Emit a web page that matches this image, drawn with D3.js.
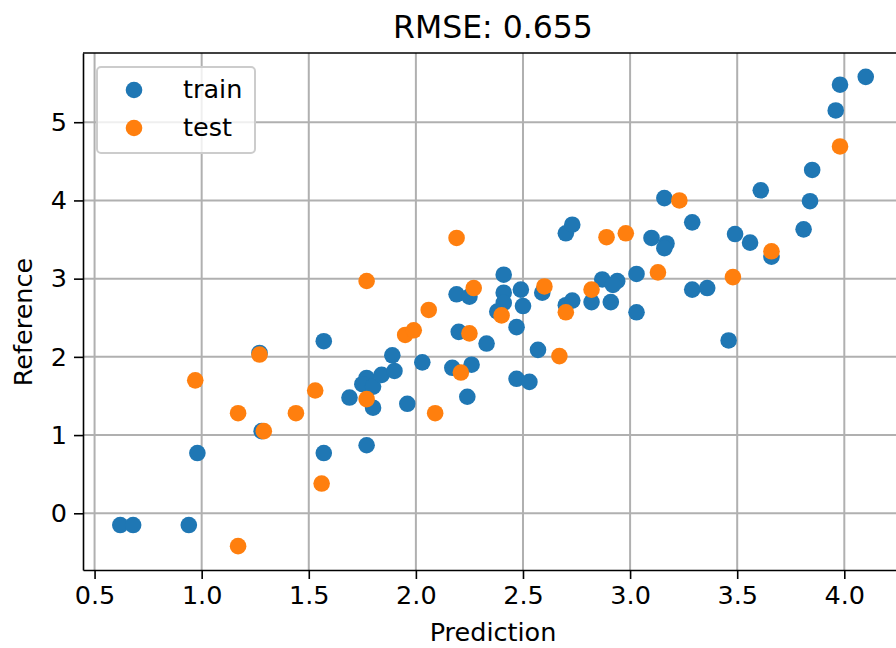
<!DOCTYPE html>
<html>
<head>
<meta charset="utf-8">
<script src="https://cdn.jsdelivr.net/npm/d3@7"></script>
<style>
  body { margin: 0; background: #fff; }
  svg { display: block; font-family: "DejaVu Sans", sans-serif; }
</style>
</head>
<body>
<script>
// train points (prediction, reference)
var trainPred = [0.62, 0.68, 0.94, 0.98, 1.27, 1.28, 1.57, 1.57, 1.69, 1.77, 1.77, 1.80, 1.75, 1.80, 1.84, 1.90, 1.89, 2.03, 1.96,
                 2.19, 2.25, 2.20, 2.17, 2.26, 2.24, 2.33, 2.41, 2.41, 2.41, 2.38, 2.49, 2.50, 2.47, 2.47, 2.53, 2.57, 2.59,
                 2.70, 2.73, 2.70, 2.73, 2.82, 2.87, 2.94, 2.91, 2.92, 3.03, 3.03, 3.10, 3.16, 3.17, 3.16, 3.29, 3.29, 3.36,
                 3.46, 3.49, 3.56, 3.61, 3.66, 3.81, 3.84, 3.85, 3.96, 3.98, 4.10];
var trainRef  = [-0.15, -0.15, -0.15, 0.77, 2.05, 1.05, 2.20, 0.77, 1.48, 0.87, 1.73, 1.35, 1.65, 1.62, 1.77, 1.82, 2.02, 1.93, 1.40,
                 2.80, 2.77, 2.32, 1.86, 1.90, 1.49, 2.17, 3.05, 2.82, 2.69, 2.58, 2.86, 2.65, 2.38, 1.72, 1.68, 2.09, 2.82,
                 3.58, 3.69, 2.66, 2.72, 2.70, 2.99, 2.97, 2.70, 2.92, 3.06, 2.57, 3.52, 4.03, 3.45, 3.39, 3.72, 2.86, 2.88,
                 2.21, 3.57, 3.46, 4.13, 3.28, 3.63, 3.99, 4.39, 5.15, 5.48, 5.58];

// test points
var testPred = [0.97, 1.17, 1.17, 1.27, 1.29, 1.44, 1.53, 1.56, 1.77, 1.77, 1.95, 1.99, 2.06, 2.09, 2.19, 2.21, 2.25, 2.27,
                2.40, 2.60, 2.67, 2.70, 2.82, 2.89, 2.98, 3.13, 3.23, 3.48, 3.66, 3.98];
var testRef  = [1.70, -0.42, 1.28, 2.03, 1.05, 1.28, 1.57, 0.38, 2.97, 1.46, 2.28, 2.34, 2.60, 1.28, 3.52, 1.80, 2.30, 2.88,
                2.53, 2.90, 2.01, 2.57, 2.86, 3.53, 3.58, 3.08, 4.00, 3.02, 3.35, 4.69];

var xTicks = [0.5, 1.0, 1.5, 2.0, 2.5, 3.0, 3.5, 4.0];
var yTicks = [0, 1, 2, 3, 4, 5];
var seriesNames = ["train", "test"];
var colors = ["#1f77b4", "#ff7f0e"];

var W = 896, H = 648;
var margin = {top: 53, right: -7, bottom: 78, left: 83};
var width = W - margin.left - margin.right,
    height = H - margin.top - margin.bottom;

var svgRoot = d3.select("body").append("svg")
    .attr("width", W).attr("height", H)
    .style("overflow", "hidden");
var svg = svgRoot.append("g")
    .attr("transform", "translate(" + margin.left + "," + margin.top + ")");

var x = d3.scaleLinear().domain([0.446, 4.274]).range([0, width]);
var y = d3.scaleLinear().domain([-0.725, 5.885]).range([height, 0]);

// grid
svg.append("g").selectAll("line").data(xTicks).enter().append("line")
    .attr("x1", d => x(d)).attr("x2", d => x(d))
    .attr("y1", 0).attr("y2", height)
    .attr("stroke", "#b0b0b0").attr("stroke-width", 2);
svg.append("g").selectAll("line").data(yTicks).enter().append("line")
    .attr("y1", d => y(d)).attr("y2", d => y(d))
    .attr("x1", 0).attr("x2", width)
    .attr("stroke", "#b0b0b0").attr("stroke-width", 2);

// axes
var xAxis = svg.append("g")
    .attr("transform", "translate(0," + height + ")")
    .call(d3.axisBottom(x).tickValues(xTicks).tickFormat(d3.format(".1f")).tickSizeInner(9).tickSizeOuter(0).tickPadding(7));
var yAxis = svg.append("g")
    .call(d3.axisLeft(y).tickValues(yTicks).tickFormat(d3.format("d")).tickSizeInner(9).tickSizeOuter(0).tickPadding(7));
[xAxis, yAxis].forEach(function(a) {
    a.selectAll("text").style("font-size", "25.5px").style("font-family", "DejaVu Sans").attr("fill", "#000");
    a.selectAll("line").attr("stroke-width", 1.6);
    a.select(".domain").attr("stroke-width", 1.6);
});

// top spine
svg.append("line").attr("x1", 0).attr("x2", width).attr("y1", 0).attr("y2", 0)
    .attr("stroke", "#000").attr("stroke-width", 1.6);

// points
function drawSeries(px, py, color) {
    svg.append("g").selectAll("circle").data(px).enter().append("circle")
        .attr("cx", (d, i) => x(d))
        .attr("cy", (d, i) => y(py[i]))
        .attr("r", 8.3)
        .attr("fill", color);
}
drawSeries(trainPred, trainRef, colors[0]);
drawSeries(testPred, testRef, colors[1]);

// title and axis labels
svgRoot.append("text")
    .attr("x", 493).attr("y", 38)
    .attr("text-anchor", "middle")
    .style("font-size", "31.5px")
    .text("RMSE: 0.655");

svgRoot.append("text")
    .attr("x", 493).attr("y", 641)
    .attr("text-anchor", "middle")
    .style("font-size", "25.5px")
    .text("Prediction");

svgRoot.append("text")
    .attr("transform", "translate(32,322) rotate(-90)")
    .attr("text-anchor", "middle")
    .style("font-size", "25.5px")
    .text("Reference");

// legend
var legend = svgRoot.append("g");
legend.append("rect")
    .attr("x", 97).attr("y", 67).attr("width", 158).attr("height", 86)
    .attr("rx", 4)
    .attr("fill", "#fff").attr("fill-opacity", 0.8)
    .attr("stroke", "#cccccc").attr("stroke-width", 2);
seriesNames.forEach(function(name, i) {
    legend.append("circle")
        .attr("cx", 134).attr("cy", 90 + i * 38)
        .attr("r", 8.3).attr("fill", colors[i]);
    legend.append("text")
        .attr("x", 183).attr("y", 98 + i * 38)
        .style("font-size", "25.5px")
        .text(name);
});
</script>
</body>
</html>
